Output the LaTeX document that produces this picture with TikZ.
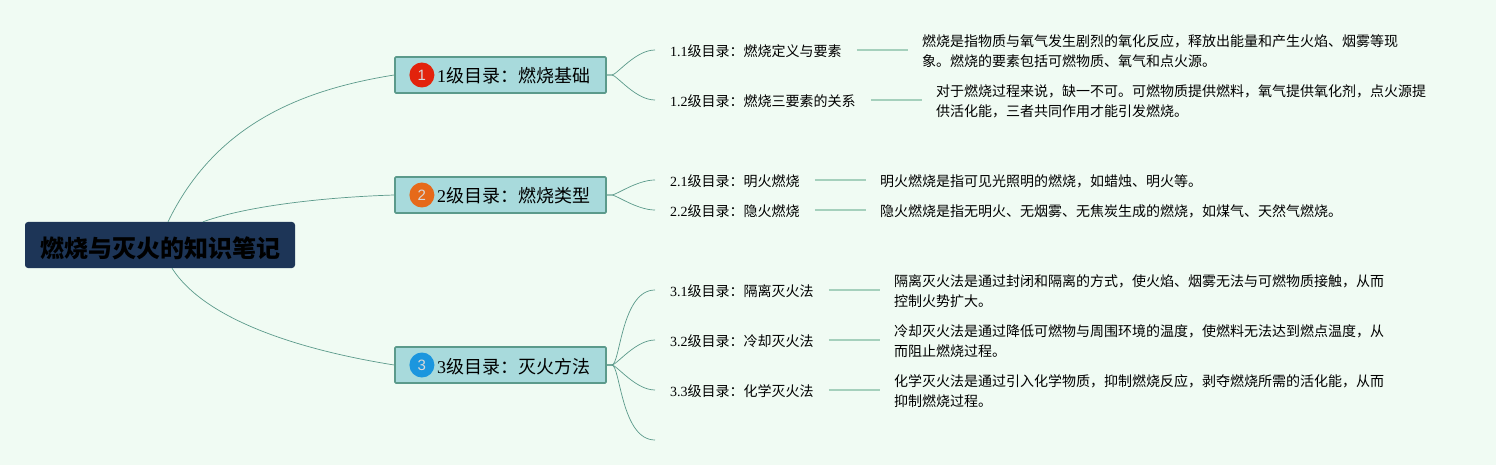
\documentclass[tikz,border=0pt]{standalone}
\usepackage{fontspec}
\setmainfont{Liberation Serif}
\setsansfont{Liberation Sans}
\newfontfamily\cjk{Noto Sans CJK SC}
\usetikzlibrary{positioning}
\definecolor{paper}{RGB}{240,251,243}
\definecolor{navy}{RGB}{29,53,87}
\definecolor{topicfill}{RGB}{168,218,220}
\definecolor{linkgreen}{RGB}{91,154,139}
\definecolor{shortgreen}{RGB}{165,208,188}
\definecolor{badgered}{RGB}{226,35,12}
\definecolor{badgeorange}{RGB}{230,106,26}
\definecolor{badgeblue}{RGB}{27,150,222}
\newcommand{\num}[1]{{\rmfamily #1}}
\tikzset{
	root/.style = {
			rectangle, rounded corners=3pt, fill=navy, text=black,
			minimum width=270pt, minimum height=46pt, inner sep=0pt,
			text height=24pt, text depth=0pt,
			font=\cjk\bfseries\fontsize{24}{28}\selectfont,
		},
	topic/.style = {
			rectangle, rounded corners=1pt, draw=linkgreen, line width=1.6pt,
			fill=topicfill, text width=179pt, align=right, inner xsep=16pt,
			minimum height=36pt, inner ysep=0pt,
			text height=16pt, text depth=0pt,
			font=\cjk\fontsize{18}{22}\selectfont,
		},
	badge/.style = {
			circle, inner sep=0pt, minimum size=25pt, text=white!85!black,
			font=\sffamily\fontsize{15}{15}\selectfont,
		},
	subtopic/.style = {
			anchor=west, inner xsep=15pt, inner ysep=2pt,
			font=\cjk\fontsize{14}{18}\selectfont,
		},
	detail/.style = {
			align=left, inner xsep=14pt, inner ysep=0pt,
			font=\cjk\fontsize{14}{20}\selectfont,
		},
	mainlink/.style = {draw=linkgreen, line width=0.7pt},
	sublink/.style = {draw=linkgreen, line width=0.7pt},
	shortlink/.style = {draw=shortgreen, line width=1.3pt},
}
\begin{document}
\begin{tikzpicture}[x=1pt,y=-1pt]
	% Page
	\fill[paper] (0,0) rectangle (1496,465);
	\useasboundingbox (0,0) rectangle (1496,465);

	% Draw topics
	\node [root] (r) at (160,245) {燃烧与灭火的知识笔记};
	\node [topic] (b1) at (500.5,75) {\num{1}级目录：燃烧基础};
	\node [topic] (b2) at (500.5,195) {\num{2}级目录：燃烧类型};
	\node [topic] (b3) at (500.5,365) {\num{3}级目录：灭火方法};

	\node [badge, fill=badgered, right=15pt of b1.west] (i1) {1};
	\node [badge, fill=badgeorange, right=15pt of b2.west] (i2) {2};
	\node [badge, fill=badgeblue, right=15pt of b3.west] (i3) {3};

	% Subtopics
	\node [subtopic] (s11) at (655,51) {\num{1.1}级目录：燃烧定义与要素};
	\node [subtopic] (s12) at (655,101) {\num{1.2}级目录：燃烧三要素的关系};
	\node [subtopic] (s21) at (655,181) {\num{2.1}级目录：明火燃烧};
	\node [subtopic] (s22) at (655,211) {\num{2.2}级目录：隐火燃烧};
	\node [subtopic] (s31) at (655,291) {\num{3.1}级目录：隔离灭火法};
	\node [subtopic] (s32) at (655,341) {\num{3.2}级目录：冷却灭火法};
	\node [subtopic] (s33) at (655,391) {\num{3.3}级目录：化学灭火法};
	\coordinate (s34) at (655,441);

	% Details
	\node [detail, right=51pt of s11] (d11) {燃烧是指物质与氧气发生剧烈的氧化反应，释放出能量和产生火焰、烟雾等现\\象。燃烧的要素包括可燃物质、氧气和点火源。};
	\node [detail, right=51pt of s12] (d12) {对于燃烧过程来说，缺一不可。可燃物质提供燃料，氧气提供氧化剂，点火源提\\供活化能，三者共同作用才能引发燃烧。};
	\node [detail, right=51pt of s21] (d21) {明火燃烧是指可见光照明的燃烧，如蜡烛、明火等。};
	\node [detail, right=51pt of s22] (d22) {隐火燃烧是指无明火、无烟雾、无焦炭生成的燃烧，如煤气、天然气燃烧。};
	\node [detail, right=51pt of s31] (d31) {隔离灭火法是通过封闭和隔离的方式，使火焰、烟雾无法与可燃物质接触，从而\\控制火势扩大。};
	\node [detail, right=51pt of s32] (d32) {冷却灭火法是通过降低可燃物与周围环境的温度，使燃料无法达到燃点温度，从\\而阻止燃烧过程。};
	\node [detail, right=51pt of s33] (d33) {化学灭火法是通过引入化学物质，抑制燃烧反应，剥夺燃烧所需的活化能，从而\\抑制燃烧过程。};

	% Links from the root
	\draw [mainlink] ([xshift=8pt]r.north) .. controls (215,125) and (300,90) .. (b1.west);
	\draw [mainlink] ([xshift=43pt]r.north) .. controls (250,205) and (330,197) .. (b2.west);
	\draw [mainlink] ([xshift=12pt]r.south) .. controls (205,320) and (300,350) .. (b3.west);

	% Links to subtopics
	\foreach \b/\s in {b1/s11,b1/s12,b2/s21,b2/s22,b3/s31,b3/s32,b3/s33}
		\draw [sublink] (\b.east) -- ++(5,0) to[out=0,in=180,out looseness=0.25,in looseness=1] ([yshift=1pt]\s.west);
	\draw [sublink] (b3.east) -- ++(5,0) to[out=0,in=180,out looseness=0.25,in looseness=1] ([yshift=1pt]s34);

	% Short lines
	\foreach \s/\d in {s11/d11,s12/d12,s21/d21,s22/d22,s31/d31,s32/d32,s33/d33}
		\draw [shortlink] ([yshift=1pt]\s.east) -- ([yshift=1pt]\d.west);
\end{tikzpicture}
\end{document}
